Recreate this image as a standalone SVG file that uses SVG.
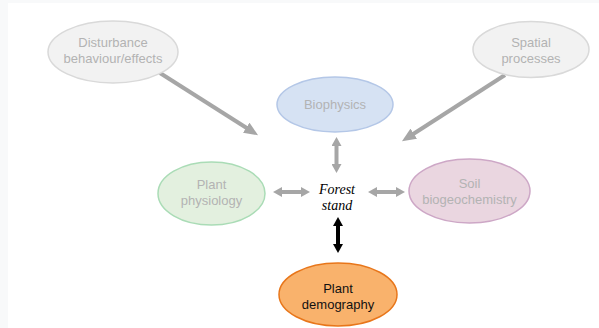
<svg xmlns="http://www.w3.org/2000/svg" width="599" height="328" viewBox="0 0 599 328">
<defs>
<style>
.lbl{font-family:"Liberation Sans",Arial,sans-serif;font-size:13px;text-anchor:middle;fill:#b3b3b3}
.dark{fill:#111111}
.fs{font-family:"Liberation Serif","Times New Roman",serif;font-style:italic;font-size:14px;text-anchor:middle;fill:#000}
.ga{stroke:#a6a6a6;stroke-width:4;fill:none}
.ba{stroke:#000;stroke-width:4;fill:none}
</style>
<marker id="gbig" markerUnits="userSpaceOnUse" markerWidth="14" markerHeight="12" refX="8" refY="6" orient="auto"><path d="M0,0 L14,6 L0,12 z" fill="#a6a6a6"/></marker>
<marker id="gs" markerUnits="userSpaceOnUse" markerWidth="9" markerHeight="10" refX="2" refY="5" orient="auto-start-reverse"><path d="M0,0 L9,5 L0,10 z" fill="#a6a6a6"/></marker>
<marker id="bs" markerUnits="userSpaceOnUse" markerWidth="9" markerHeight="10" refX="2" refY="5" orient="auto-start-reverse"><path d="M0,0 L9,5 L0,10 z" fill="#000"/></marker>
</defs>
<rect x="0" y="0" width="599" height="328" fill="#f8f9fa"/>
<rect x="8" y="3" width="591" height="325" fill="#ffffff"/>
<g id="connectors">
<line class="ga" x1="160" y1="73" x2="253" y2="132" marker-end="url(#gbig)"/>
<line class="ga" x1="505" y1="75" x2="407" y2="138" marker-end="url(#gbig)"/>
<line class="ga" x1="336.5" y1="144" x2="336.5" y2="166" marker-start="url(#gs)" marker-end="url(#gs)"/>
<line class="ga" x1="280" y1="192" x2="303" y2="192" marker-start="url(#gs)" marker-end="url(#gs)"/>
<line class="ga" x1="375" y1="192" x2="398" y2="192" marker-start="url(#gs)" marker-end="url(#gs)"/>
<line class="ba" x1="338" y1="224" x2="338" y2="246" marker-start="url(#bs)" marker-end="url(#bs)"/>
</g>
<g id="disturbance">
<ellipse cx="113" cy="52" rx="65" ry="31" fill="#f2f2f2" stroke="#d9d9d9" stroke-width="1.5"/>
<text class="lbl" x="113" y="47">Disturbance</text>
<text class="lbl" x="113" y="63">behaviour/effects</text>
</g>
<g id="spatial">
<ellipse cx="531" cy="49.5" rx="58" ry="28" fill="#f2f2f2" stroke="#d9d9d9" stroke-width="1.5"/>
<text class="lbl" x="531" y="47">Spatial</text>
<text class="lbl" x="531" y="63">processes</text>
</g>
<g id="biophysics">
<ellipse cx="335" cy="104.5" rx="58" ry="27.5" fill="#d6e2f3" stroke="#b4c7e7" stroke-width="1.5"/>
<text class="lbl" x="335" y="109">Biophysics</text>
</g>
<g id="physiology">
<ellipse cx="211.5" cy="193.5" rx="53.5" ry="31.5" fill="#e3f0df" stroke="#aadcb6" stroke-width="1.5"/>
<text class="lbl" x="211.5" y="189">Plant</text>
<text class="lbl" x="211.5" y="205">physiology</text>
</g>
<g id="forest">
<text class="fs" x="337" y="194">Forest</text>
<text class="fs" x="337" y="210">stand</text>
</g>
<g id="soil">
<ellipse cx="469.5" cy="191" rx="60.5" ry="32" fill="#ead6e0" stroke="#cda7c6" stroke-width="1.5"/>
<text class="lbl" x="469.5" y="188">Soil</text>
<text class="lbl" x="469.5" y="204">biogeochemistry</text>
</g>
<g id="demography">
<ellipse cx="338" cy="294.5" rx="59" ry="31.5" fill="#f9b26c" stroke="#e8761a" stroke-width="1.5"/>
<text class="lbl dark" x="338" y="293">Plant</text>
<text class="lbl dark" x="338" y="309">demography</text>
</g>
</svg>
